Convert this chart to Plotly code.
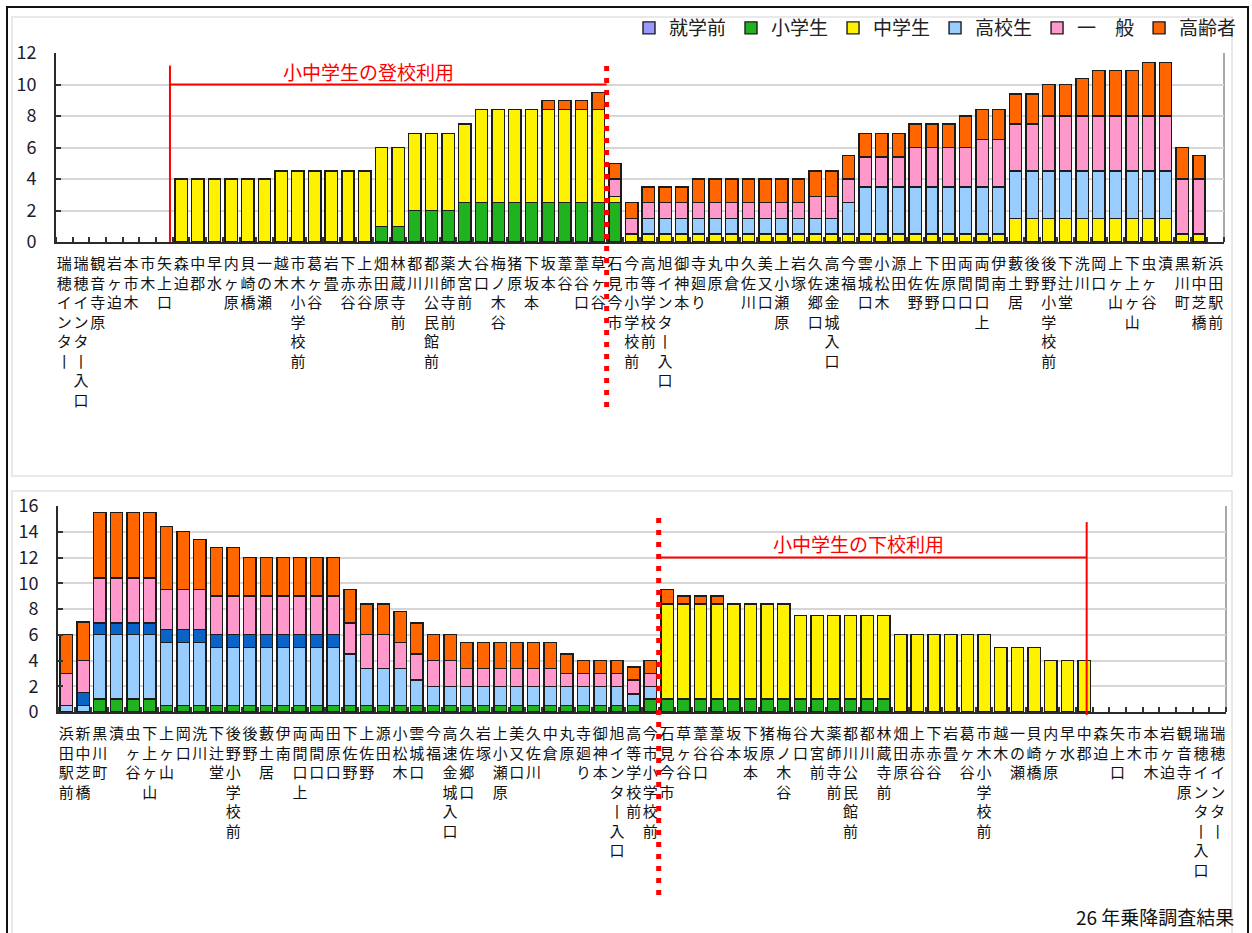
import plotly.graph_objects as go

# Bus stops, inbound order (瑞穂インター -> 浜田駅前)
stations = [
    "瑞穂インター", "瑞穂インター入口", "観音寺原", "岩ヶ迫", "本市木", "市木", "矢上口", "森迫", "中郡", "早水",
    "内ヶ原", "貝崎橋", "一の瀬", "越木", "市木小学校前", "葛ヶ谷", "岩畳", "下赤谷", "上赤谷", "畑田原",
    "林蔵寺前", "都川", "都川公民館前", "薬師寺前", "大宮前", "谷口", "梅ノ木谷", "猪原", "下坂本", "坂本",
    "葦谷", "葦谷口", "草ヶ谷", "石見今市", "今市小学校前", "高等学校前", "旭インター入口", "御神本", "寺廻り", "丸原",
    "中倉", "久佐川", "美又口", "上小瀬原", "岩塚", "久佐郷口", "高速金城入口", "今福", "雲城口", "小松木",
    "源田", "上佐野", "下佐野", "田原口", "両間口", "両間口上", "伊南", "藪土居", "後野", "後野小学校前",
    "下辻堂", "洗川", "岡口", "上ヶ山", "下上ヶ山", "虫ヶ谷", "漬", "黒川町", "新中芝橋", "浜田駅前",
]
# Outbound order (浜田駅前 -> 瑞穂インター)
stations_down = stations[::-1]

_ = None

# ---- inbound (upper chart), one value per stop in `stations` order ----
up_preschool = [_] * 70
up_elementary = [
    _, _, _, _, _, _, _, _, _, _,
    _, _, _, _, _, _, _, _, _, 1.0,
    1.0, 2.0, 2.0, 2.0, 2.5, 2.5, 2.5, 2.5, 2.5, 2.5,
    2.5, 2.5, 2.5, 2.5, _, _, _, _, _, _,
    _, _, _, _, _, _, _, _, _, _,
    _, _, _, _, _, _, _, _, _, _,
    _, _, _, _, _, _, _, _, _, _,
]
up_junior = [
    _, _, _, _, _, _, _, 4.0, 4.0, 4.0,
    4.0, 4.0, 4.0, 4.5, 4.5, 4.5, 4.5, 4.5, 4.5, 5.0,
    5.0, 4.9, 4.9, 4.9, 5.0, 5.9, 5.9, 5.9, 5.9, 5.9,
    5.9, 5.9, 5.9, 0.4, 0.5, 0.5, 0.5, 0.5, 0.5, 0.5,
    0.5, 0.5, 0.5, 0.5, 0.5, 0.5, 0.5, 0.5, 0.5, 0.5,
    0.5, 0.5, 0.5, 0.5, 0.5, 0.5, 0.5, 1.5, 1.5, 1.5,
    1.5, 1.5, 1.5, 1.5, 1.5, 1.5, 1.5, 0.5, 0.5, _,
]
up_high = [
    _, _, _, _, _, _, _, _, _, _,
    _, _, _, _, _, _, _, _, _, _,
    _, _, _, _, _, _, _, _, _, _,
    _, _, _, _, _, 1.0, 1.0, 1.0, 1.0, 1.0,
    1.0, 1.0, 1.0, 1.0, 1.0, 1.0, 1.0, 2.0, 3.0, 3.0,
    3.0, 3.0, 3.0, 3.0, 3.0, 3.0, 3.0, 3.0, 3.0, 3.0,
    3.0, 3.0, 3.0, 3.0, 3.0, 3.0, 3.0, _, _, _,
]
up_general = [
    _, _, _, _, _, _, _, _, _, _,
    _, _, _, _, _, _, _, _, _, _,
    _, _, _, _, _, _, _, _, _, _,
    _, _, _, 1.1, 1.0, 1.0, 1.0, 1.0, 1.0, 1.0,
    1.0, 1.0, 1.0, 1.0, 1.0, 1.4, 1.4, 1.5, 1.9, 1.9,
    1.9, 2.5, 2.5, 2.5, 2.5, 3.0, 3.0, 3.0, 3.0, 3.5,
    3.5, 3.5, 3.5, 3.5, 3.5, 3.5, 3.5, 3.5, 3.5, _,
]
up_senior = [
    _, _, _, _, _, _, _, _, _, _,
    _, _, _, _, _, _, _, _, _, _,
    _, _, _, _, _, _, _, _, _, 0.6,
    0.6, 0.6, 1.1, 1.0, 1.0, 1.0, 1.0, 1.0, 1.5, 1.5,
    1.5, 1.5, 1.5, 1.5, 1.5, 1.6, 1.6, 1.5, 1.5, 1.5,
    1.5, 1.5, 1.5, 1.5, 2.0, 1.9, 1.9, 1.9, 1.9, 2.0,
    2.0, 2.4, 2.9, 2.9, 2.9, 3.4, 3.4, 2.0, 1.5, _,
]

# ---- outbound (lower chart), one value per stop in `stations_down` order ----
down_elementary = [
    _, _, 1.0, 1.0, 1.0, 1.0, 0.5, 0.5, 0.5, 0.5,
    0.5, 0.5, 0.5, 0.5, 0.5, 0.5, 0.5, 0.5, 0.5, 0.5,
    0.5, 0.5, 0.5, 0.5, 0.5, 0.5, 0.5, 0.5, 0.5, 0.5,
    0.5, 0.5, 0.5, 0.5, 0.5, 1.0, 1.0, 1.0, 1.0, 1.0,
    1.0, 1.0, 1.0, 1.0, 1.0, 1.0, 1.0, 1.0, 1.0, 1.0,
    _, _, _, _, _, _, _, _, _, _,
    _, _, _, _, _, _, _, _, _, _,
]
down_junior = [
    _, _, _, _, _, _, _, _, _, _,
    _, _, _, _, _, _, _, _, _, _,
    _, _, _, _, _, _, _, _, _, _,
    _, _, _, _, _, _, 7.4, 7.4, 7.4, 7.4,
    7.4, 7.4, 7.4, 7.4, 6.5, 6.5, 6.5, 6.5, 6.5, 6.5,
    6.0, 6.0, 6.0, 6.0, 6.0, 6.0, 5.0, 5.0, 5.0, 4.0,
    4.0, 4.0, _, _, _, _, _, _, _, _,
]
down_high = [
    0.5, 0.5, 5.0, 5.0, 5.0, 5.0, 4.9, 4.9, 4.9, 4.5,
    4.5, 4.5, 4.5, 4.5, 4.5, 4.5, 4.5, 4.0, 2.9, 2.9,
    2.9, 2.0, 1.5, 1.5, 1.5, 1.5, 1.5, 1.5, 1.5, 1.5,
    1.5, 1.5, 1.5, 1.5, 0.9, 1.0, _, _, _, _,
    _, _, _, _, _, _, _, _, _, _,
    _, _, _, _, _, _, _, _, _, _,
    _, _, _, _, _, _, _, _, _, _,
]
down_other = [
    _, 1.0, 0.9, 0.9, 0.9, 0.9, 1.0, 1.0, 1.0, 1.0,
    1.0, 1.0, 1.0, 1.0, 1.0, 1.0, 1.0, _, _, _,
    _, _, _, _, _, _, _, _, _, _,
    _, _, _, _, _, _, _, _, _, _,
    _, _, _, _, _, _, _, _, _, _,
    _, _, _, _, _, _, _, _, _, _,
    _, _, _, _, _, _, _, _, _, _,
]
down_general = [
    2.5, 2.5, 3.5, 3.5, 3.5, 3.5, 3.1, 3.1, 3.1, 3.0,
    3.0, 3.0, 3.0, 3.0, 3.0, 3.0, 3.0, 2.4, 2.6, 2.6,
    2.0, 2.0, 2.0, 2.0, 1.4, 1.4, 1.4, 1.4, 1.4, 1.4,
    1.0, 1.0, 1.0, 1.0, 1.1, 1.0, _, _, _, _,
    _, _, _, _, _, _, _, _, _, _,
    _, _, _, _, _, _, _, _, _, _,
    _, _, _, _, _, _, _, _, _, _,
]
down_senior = [
    3.0, 3.0, 5.1, 5.1, 5.1, 5.1, 4.9, 4.5, 3.9, 3.8,
    3.8, 3.0, 3.0, 3.0, 3.0, 3.0, 3.0, 2.6, 2.4, 2.4,
    2.4, 2.4, 2.0, 2.0, 2.0, 2.0, 2.0, 2.0, 2.0, 2.0,
    1.5, 1.0, 1.0, 1.0, 1.0, 1.0, 1.1, 0.6, 0.6, 0.6,
    _, _, _, _, _, _, _, _, _, _,
    _, _, _, _, _, _, _, _, _, _,
    _, _, _, _, _, _, _, _, _, _,
]

series_names = ["就学前", "小学生", "中学生", "高校生", "一　般", "高齢者"]
colors = {
    "就学前": "#9999FF",
    "小学生": "#21B21F",
    "中学生": "#FFF200",
    "高校生": "#99CCFF",
    "その他": "#0A64C8",
    "一　般": "#FF99CC",
    "高齢者": "#FF6600",
}

FONT = "Noto Sans CJK JP"
W, H = 1252, 933
N = len(stations)
idx = list(range(N))


def vertical(name):
    # stack characters top-to-bottom; the long-vowel mark turns upright in vertical text
    return "<br>".join("丨" if c == "ー" else c for c in name)


fig = go.Figure()


def add_bar(values, name, xa, ya, labels, show):
    fig.add_trace(go.Bar(
        x=idx, y=values, name=name, xaxis=xa, yaxis=ya,
        marker=dict(color=colors[name], line=dict(color="#1c1c1c", width=1.4)),
        showlegend=show, legendgroup=name,
        customdata=labels, hovertemplate="%{customdata}<br>" + name + ": %{y}<extra></extra>",
    ))


up_series = [up_preschool, up_elementary, up_junior, up_high, up_general, up_senior]
for name, vals in zip(series_names, up_series):
    add_bar(vals, name, "x", "y", stations, True)

down_series = [
    ("小学生", down_elementary), ("中学生", down_junior), ("高校生", down_high),
    ("その他", down_other), ("一　般", down_general), ("高齢者", down_senior),
]
for name, vals in down_series:
    add_bar(vals, name, "x2", "y2", stations_down, False)

# plot-area placement in pixels
TOP = dict(l=56, r=1224, t=53, b=242)
BOT = dict(l=58, r=1226, t=506, b=712)


def xdom(p):
    return [p["l"] / W, p["r"] / W]


def ydom(p):
    return [1 - p["b"] / H, 1 - p["t"] / H]


common_x = dict(
    range=[-0.5, N - 0.5], tickmode="array", tickvals=idx, tickangle=0,
    ticks="", showline=True, linecolor="#2a2a2a", linewidth=2,
    tickfont=dict(size=15, color="#111111", family=FONT),
    ticklabelstandoff=7, showgrid=False, zeroline=False, automargin=False,
    minor=dict(tickmode="linear", tick0=-0.5, dtick=1, ticks="inside",
               ticklen=5, tickwidth=1.5, tickcolor="#333333", showgrid=False),
)
common_y = dict(
    dtick=2, showgrid=True, gridcolor="#D6D6D6", gridwidth=2,
    showline=True, linecolor="#2a2a2a", linewidth=2, zeroline=False, automargin=False,
    ticks="inside", ticklen=5, tickwidth=1.5, tickcolor="#333333",
    tickfont=dict(size=18, color="#1b1b33", family=FONT), ticklabelstandoff=14,
)

fig.update_layout(
    width=W, height=H, margin=dict(l=0, r=0, t=0, b=0, autoexpand=False),
    barmode="stack", bargap=0.26,
    paper_bgcolor="white", plot_bgcolor="white",
    font=dict(family=FONT, color="#222222"),
    xaxis=dict(domain=xdom(TOP), anchor="y", ticktext=[vertical(s) for s in stations], **common_x),
    yaxis=dict(domain=ydom(TOP), anchor="x", range=[0, 12], **common_y),
    xaxis2=dict(domain=xdom(BOT), anchor="y2", ticktext=[vertical(s) for s in stations_down], **common_x),
    yaxis2=dict(domain=ydom(BOT), anchor="x2", range=[0, 16], **common_y),
    legend=dict(orientation="h", x=1242 / W, xanchor="right", y=1 - 28 / H, yanchor="middle",
                font=dict(size=19, color="#222222", family=FONT), traceorder="normal",
                itemwidth=30, bgcolor="rgba(0,0,0,0)", tracegroupgap=0),
    showlegend=True,
)

RED = "#FF0000"
shapes = []
# frames around the figure and the two chart panels
shapes.append(dict(type="rect", xref="paper", yref="paper", x0=7 / W, x1=1248 / W, y0=-0.02, y1=1 - 7 / H,
                   line=dict(color="#111111", width=2), layer="below"))
shapes.append(dict(type="rect", xref="paper", yref="paper", x0=12 / W, x1=1232 / W, y0=1 - 476 / H, y1=1 - 17 / H,
                   line=dict(color="#E2E2E2", width=1.5), layer="below"))
shapes.append(dict(type="rect", xref="paper", yref="paper", x0=12 / W, x1=1232 / W, y0=-0.02, y1=1 - 491 / H,
                   line=dict(color="#E2E2E2", width=1.5), layer="below"))
# right-hand plot borders
for xa, ya in (("x", "y"), ("x2", "y2")):
    shapes.append(dict(type="line", xref=f"{xa} domain", yref=f"{ya} domain", x0=1, x1=1, y0=0, y1=1,
                       line=dict(color="#A8A8A8", width=2), layer="below"))

# inbound: school-commute span and direction split
up_split = stations.index("草ヶ谷") + 0.5
up_start = stations.index("森迫") - 0.67
shapes += [
    dict(type="line", xref="x", yref="y", x0=up_start, x1=up_start, y0=0, y1=11.2, line=dict(color=RED, width=2)),
    dict(type="line", xref="x", yref="y", x0=up_start, x1=up_split, y0=10, y1=10, line=dict(color=RED, width=2)),
    dict(type="line", xref="x", yref="y domain", x0=up_split, x1=up_split, y0=-0.873, y1=0.952,
         line=dict(color=RED, width=5, dash="5px,7px")),
]
# outbound: school-return span and direction split
down_split = stations_down.index("今市小学校前") + 0.5
down_end = stations_down.index("中郡") + 0.15
shapes += [
    dict(type="line", xref="x2", yref="y2 domain", x0=down_end, x1=down_end, y0=-0.015, y1=0.922,
         line=dict(color=RED, width=2)),
    dict(type="line", xref="x2", yref="y2", x0=down_split, x1=down_end, y0=12, y1=12, line=dict(color=RED, width=2)),
    dict(type="line", xref="x2", yref="y2 domain", x0=down_split, x1=down_split, y0=-0.888, y1=0.971,
         line=dict(color=RED, width=5, dash="5px,7px")),
]
fig.update_layout(shapes=shapes)

fig.add_annotation(text="小中学生の登校利用", xref="x", yref="y", x=18.2, y=10.8, showarrow=False,
                   font=dict(size=19, color=RED, family=FONT), xanchor="center", yanchor="middle")
fig.add_annotation(text="小中学生の下校利用", xref="x2", yref="y2", x=47.5, y=13.1, showarrow=False,
                   font=dict(size=19, color=RED, family=FONT), xanchor="center", yanchor="middle")
fig.add_annotation(text="26 年乗降調査結果", xref="paper", yref="paper", x=1236 / W, y=1 - 916 / H,
                   showarrow=False, font=dict(size=19, color="#111111", family=FONT),
                   xanchor="right", yanchor="middle")

fig.write_html("out.html")
